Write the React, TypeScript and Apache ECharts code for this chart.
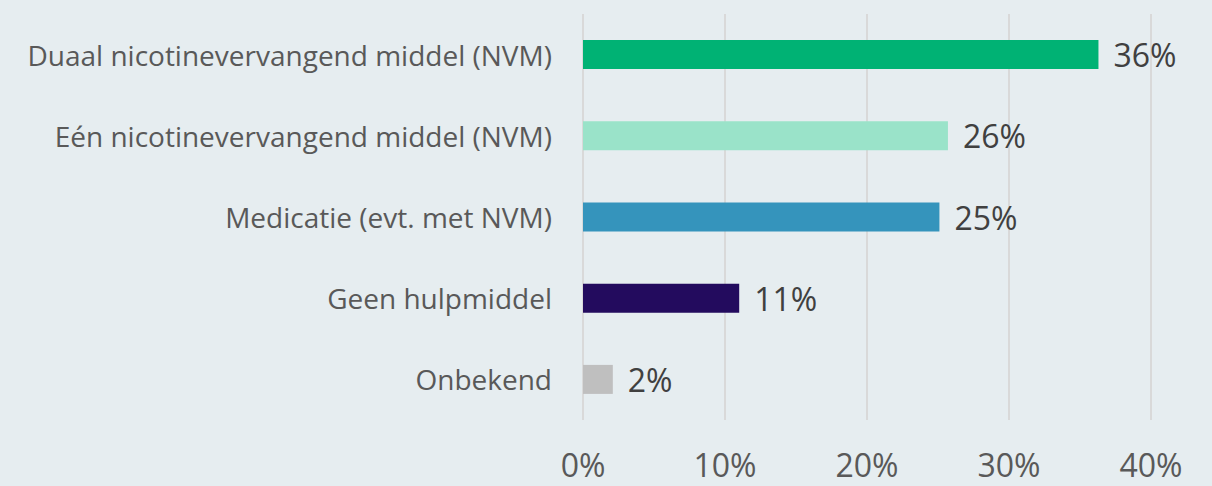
import React, { useEffect, useRef } from "react";
import * as echarts from "echarts";

const categories = [
  "Duaal nicotinevervangend middel (NVM)",
  "Eén nicotinevervangend middel (NVM)",
  "Medicatie (evt. met NVM)",
  "Geen hulpmiddel",
  "Onbekend",
];
const values = [36.3, 25.7, 25.1, 11.0, 2.1];
const colors = ["#00B274", "#9AE3C9", "#3594BC", "#230B5E", "#BFBFBF"];
const tickValues = [0, 10, 20, 30, 40];

const FONT = "'Open Sans', Lato, sans-serif";

export default function App() {
  const ref = useRef<HTMLDivElement>(null);
  useEffect(() => {
    if (!ref.current) return;
    const chart = echarts.init(ref.current, undefined, { renderer: "svg" });
    chart.setOption({
      animation: false,
      backgroundColor: "#E6EDF0",
      grid: { left: 583, right: 61, top: 14, bottom: 66, containLabel: false },
      xAxis: {
        type: "value",
        min: tickValues[0],
        max: tickValues[tickValues.length - 1],
        interval: 10,
        axisLine: { show: false },
        axisTick: { show: false },
        splitLine: { show: true, lineStyle: { color: "#D9D9D9", width: 2 } },
        axisLabel: {
          formatter: (v: number) => `${v}%`,
          color: "#595959",
          fontSize: 32,
          fontFamily: FONT,
          margin: 28,
        },
      },
      yAxis: {
        type: "category",
        inverse: true,
        data: categories,
        axisLine: { show: false },
        axisTick: { show: false },
        axisLabel: {
          color: "#595959",
          fontSize: 28,
          fontFamily: FONT,
          margin: 31,
        },
      },
      series: [
        {
          type: "bar",
          barWidth: 29,
          data: values.map((v, i) => ({ value: v, itemStyle: { color: colors[i] } })),
          label: {
            show: true,
            position: "right",
            distance: 15,
            color: "#404040",
            fontSize: 32,
            fontFamily: FONT,
            formatter: (p: any) => `${Math.round(p.value)}%`,
          },
        },
      ],
    });
    return () => chart.dispose();
  }, []);
  return (
    <div
      ref={ref}
      style={{ width: 1212, height: 486, position: "absolute", left: 0, top: 0 }}
    />
  );
}
